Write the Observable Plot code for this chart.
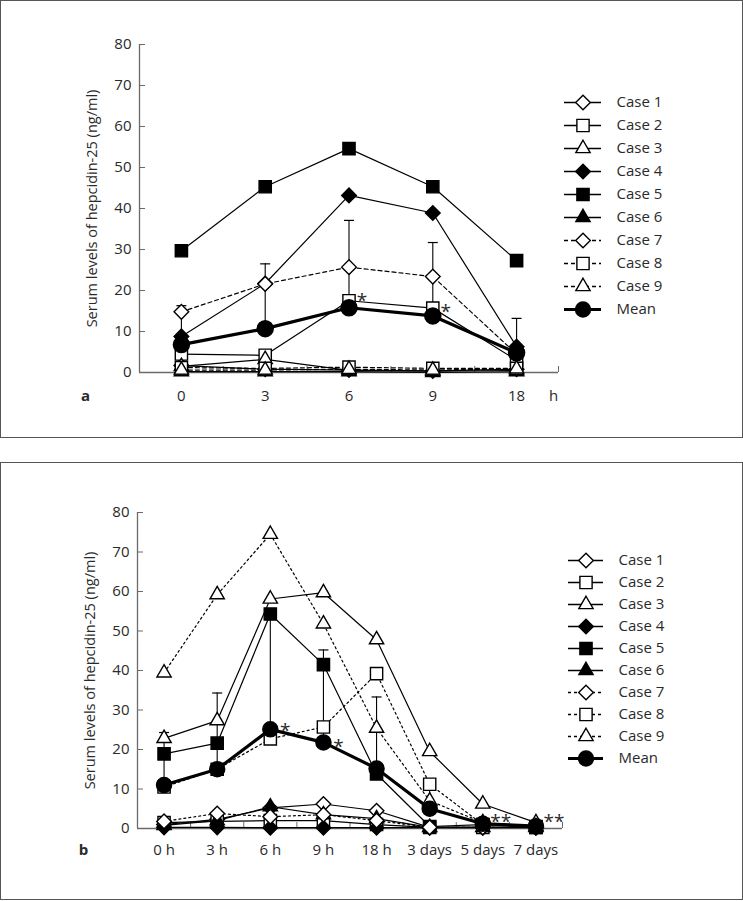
<!DOCTYPE html>
<html><head><meta charset="utf-8">
<script src="https://cdn.jsdelivr.net/npm/d3@7"></script>
<script src="https://cdn.jsdelivr.net/npm/@observablehq/plot@0.6"></script>
<style>
body{margin:0;background:#fff;}
#page{position:relative;width:743px;height:901px;overflow:hidden;font-family:'Open Sans',sans-serif;}
.box{position:absolute;box-sizing:border-box;border:1.5px solid #555;}
#page svg{position:absolute;overflow:visible;}
</style></head><body><div id="page"></div>
<script>
// ---------- shared ----------
const seriesNames = ["Case 1","Case 2","Case 3","Case 4","Case 5","Case 6","Case 7","Case 8","Case 9","Mean"];
const yTicks = [0,10,20,30,40,50,60,70,80];
const yLabel = "Serum levels of hepcidin-25 (ng/ml)";

// ---------- panel a ----------
const aCats  = ["0","3","6","9","18"];
const aCase1 = [1.7, 0.8, 0.6, 0.4, 0.8];
const aCase2 = [4.5, 4.2, 17.5, 15.7, 3.0];
const aCase3 = [1.5, 3.2, 0.5, 0.3, 0.5];
const aCase4 = [8.8, 21.7, 43.2, 38.9, 6.3];
const aCase5 = [29.7, 45.3, 54.6, 45.3, 27.3];
const aCase6 = [0.2, 0.2, 0.2, 0.0, 0.2];
const aCase7 = [14.8, 21.6, 25.7, 23.4, 4.5];
const aCase8 = [1.2, 1.0, 1.3, 1.0, 1.0];
const aCase9 = [0.6, 0.6, 0.8, 0.6, 0.9];
const aMean    = [6.8, 10.7, 15.8, 13.8, 4.8];
const aMeanTop = [16.3, 26.5, 37.1, 31.7, 13.2];
const aStarCat = ["6", "9"];
const aStarValue = [18.8, 15.9];
const aStarText = ["*", "*"];

// ---------- panel b ----------
const bCats  = ["0 h","3 h","6 h","9 h","18 h","3 days","5 days","7 days"];
const bCase1 = [1.0, 2.3, 5.2, 6.2, 4.5, 0.3, 0.3, 0.3];
const bCase2 = [1.5, 1.8, 2.0, 2.0, 1.0, 0.3, 0.3, 0.3];
const bCase3 = [22.8, 27.3, 58.1, 59.7, 47.8, 19.5, 6.2, 1.5];
const bCase4 = [0.3, 0.3, 0.2, 0.2, 0.2, 0.2, 0.2, 0.2];
const bCase5 = [18.9, 21.6, 54.3, 41.5, 13.8, 0.5, 1.0, 0.3];
const bCase6 = [0.8, 2.0, 5.5, 3.5, 2.5, 0.3, 0.3, 0.3];
const bCase7 = [1.8, 3.8, 3.0, 3.5, 2.0, 0.3, 0.3, 0.3];
const bCase8 = [10.5, 15.0, 22.7, 25.7, 39.2, 11.2, 1.0, 0.5];
const bCase9 = [39.4, 59.2, 74.5, 51.8, 25.4, 7.0, 1.5, 0.5];
const bMean    = [11.0, 15.0, 25.1, 21.8, 15.2, 5.0, 1.2, 0.6];
const bMeanTop = [24.3, 34.3, 54.5, 45.2, 33.3, 10.8, 1.6, 0.8];
const bStarCat = ["6 h", "9 h", "5 days", "7 days"];
const bStarValue = [26.0, 22.0, 2.9, 3.0];
const bStarText = ["*", "*", "**", "**"];

// ---------- styles ----------
const styleOf = {
  "Case 1": {symbol: "diamond2", fill: "white", dashed: false},
  "Case 2": {symbol: "square",   fill: "white", dashed: false},
  "Case 3": {symbol: "triangle", fill: "white", dashed: false},
  "Case 4": {symbol: "diamond2", fill: "black", dashed: false},
  "Case 5": {symbol: "square",   fill: "black", dashed: false},
  "Case 6": {symbol: "triangle", fill: "black", dashed: false},
  "Case 7": {symbol: "diamond2", fill: "white", dashed: true},
  "Case 8": {symbol: "square",   fill: "white", dashed: true},
  "Case 9": {symbol: "triangle", fill: "white", dashed: true},
  "Mean":   {symbol: "circle",   fill: "black", dashed: false}
};
const rOf = {diamond2: 6.6, square: 6.9, triangle: 5.3, circle: 8};
const capSymbol = {draw(ctx, size) { const w = Math.sqrt(size); ctx.moveTo(-w, 0); ctx.lineTo(w, 0); }};
const FONT = "'Open Sans', sans-serif";
const FS = 15;
const AXIS = "#6a6a6a", INK = "#2a2a2a";

const page = document.getElementById("page");
function box(top, height) {
  const d = document.createElement("div");
  d.className = "box";
  Object.assign(d.style, {left: "0px", top: top + "px", width: "743px", height: height + "px"});
  page.appendChild(d);
}

function panel(p) {
  const series = p.series;
  const n = p.cats.length;
  const rows = [];
  series.forEach((vals, k) => vals.forEach((v, i) => rows.push({name: seriesNames[k], x: i + 0.5, v})));
  const meanRows = p.mean.map((v, i) => ({x: i + 0.5, v, top: p.meanTop[i]}));
  const starRows = p.starCat.map((c, j) => ({x: p.cats.indexOf(c) + 0.5, v: p.starValue[j], t: p.starText[j]}));
  const marks = [
    Plot.ruleY([0], {stroke: AXIS, strokeWidth: 1.3}),
    Plot.ruleX([0], {stroke: AXIS, strokeWidth: 1.3}),
    Plot.axisY({ticks: yTicks, tickSize: 6, dx: 6, tickPadding: 8, stroke: AXIS, fill: INK, label: null, fontSize: FS}),
    Plot.axisX({ticks: d3.range(1, n + 1), tickSize: 6, dy: -6, tickFormat: () => null, stroke: AXIS, label: null}),
    Plot.axisX({ticks: d3.range(n).map(i => i + 0.5), tickSize: 0, tickPadding: p.tickPad, tickFormat: (d) => p.cats[Math.round(d - 0.5)], fill: INK, label: null, fontSize: FS}),
    Plot.text([yLabel], {frameAnchor: "left", textAnchor: "middle", rotate: -90, dx: -47, fontSize: 14.5, fill: INK}),
    Plot.text([p.letter], {frameAnchor: "bottom-left", textAnchor: "middle", dx: -54, dy: p.tickPad, lineAnchor: "top", fontWeight: "bold", fontSize: FS, fill: INK}),
  ];
  if (p.unit) marks.push(Plot.text([p.unit], {frameAnchor: "bottom-right", textAnchor: "middle", dx: -5, dy: p.tickPad, lineAnchor: "top", fontSize: FS, fill: INK}));
  // case lines
  seriesNames.slice(0, 9).forEach(name => {
    const s = styleOf[name];
    marks.push(Plot.line(rows.filter(d => d.name === name), {x: "x", y: "v", stroke: "black", strokeWidth: 1.2, strokeDasharray: s.dashed ? p.dash : null}));
  });
  // mean line + error bars
  marks.push(Plot.ruleX(meanRows, {x: "x", y1: "v", y2: "top", stroke: "black", strokeWidth: 1.1}));
  marks.push(Plot.dot(meanRows, {x: "x", y: "top", symbol: capSymbol, r: 5 / Math.sqrt(Math.PI), fill: "none", stroke: "black", strokeWidth: 1.2}));
  marks.push(Plot.line(meanRows, {x: "x", y: "v", stroke: "black", strokeWidth: 3.2}));
  // case markers
  seriesNames.slice(0, 9).forEach(name => {
    const s = styleOf[name];
    marks.push(Plot.dot(rows.filter(d => d.name === name), {x: "x", y: "v", symbol: s.symbol, r: rOf[s.symbol], fill: s.fill, stroke: "black", strokeWidth: 1.4}));
  });
  marks.push(Plot.dot(meanRows, {x: "x", y: "v", symbol: "circle", r: p.meanR, fill: "black", stroke: "black"}));
  // significance marks
  marks.push(Plot.text(starRows.filter(d => d.t.length === 1), {x: "x", y: "v", text: "t", dx: p.starDx, dy: 5, fontSize: 19, fill: INK}));
  marks.push(Plot.text(starRows.filter(d => d.t.length > 1), {x: "x", y: "v", text: "t", dx: 18, dy: 5, fontSize: 19, fill: INK}));

  const svg = Plot.plot({
    width: 743, height: p.height,
    marginLeft: p.ml, marginRight: p.mr, marginTop: p.mt, marginBottom: p.mb,
    x: {type: "linear", domain: [0, n]},
    y: {domain: [0, 80]},
    style: {fontFamily: FONT, fontSize: FS + "px", background: "transparent", color: INK},
    marks
  });
  svg.style.left = "0px"; svg.style.top = p.top + "px";
  page.appendChild(svg);

  // legend
  const legMarks = [];
  seriesNames.forEach(name => {
    const s = styleOf[name];
    const mean = name === "Mean";
    legMarks.push(Plot.tickY([name], {y: d => d, stroke: "black", strokeWidth: mean ? 3 : 1.3, strokeDasharray: s.dashed ? p.legDash : null}));
    legMarks.push(Plot.dot([name], {y: d => d, frameAnchor: "middle", symbol: s.symbol, r: mean ? 7.5 : rOf[s.symbol], fill: s.fill, stroke: "black", strokeWidth: 1.4}));
  });
  legMarks.push(Plot.text(seriesNames, {y: d => d, text: d => d, frameAnchor: "right", textAnchor: "start", dx: 15, fontSize: FS, fill: INK}));
  const legH = p.legStep * 9;
  const leg = Plot.plot({
    width: p.legLine + 110, height: legH + 30,
    marginLeft: 0, marginRight: 110, marginTop: 15, marginBottom: 15,
    x: {domain: [0, 1], axis: null},
    y: {type: "point", domain: seriesNames, axis: null},
    style: {fontFamily: FONT, fontSize: FS + "px", background: "transparent", color: INK},
    marks: legMarks
  });
  leg.style.left = p.legX + "px"; leg.style.top = (p.legY - 15) + "px";
  page.appendChild(leg);
}

box(0, 438);
box(462, 438);

panel({
  cats: aCats,
  series: [aCase1, aCase2, aCase3, aCase4, aCase5, aCase6, aCase7, aCase8, aCase9],
  mean: aMean, meanTop: aMeanTop,
  starCat: aStarCat, starValue: aStarValue, starText: aStarText,
  letter: "a", unit: "h",
  top: 0, height: 440, ml: 139, mr: 185, mt: 44, mb: 68,
  tickPad: 17.5, dash: "4,3", legDash: "4,3", meanR: 8, starDx: 13,
  legX: 564, legY: 86, legStep: 26.6, legLine: 37
});

panel({
  cats: bCats,
  series: [bCase1, bCase2, bCase3, bCase4, bCase5, bCase6, bCase7, bCase8, bCase9],
  mean: bMean, meanTop: bMeanTop,
  starCat: bStarCat, starValue: bStarValue, starText: bStarText,
  letter: "b", unit: null,
  top: 462, height: 438, ml: 137, mr: 181, mt: 50, mb: 72,
  tickPad: 15.5, dash: "2,3", legDash: "3,3", meanR: 7.5, starDx: 15,
  legX: 568, legY: 545.5, legStep: 25, legLine: 35
});
</script></body></html>
